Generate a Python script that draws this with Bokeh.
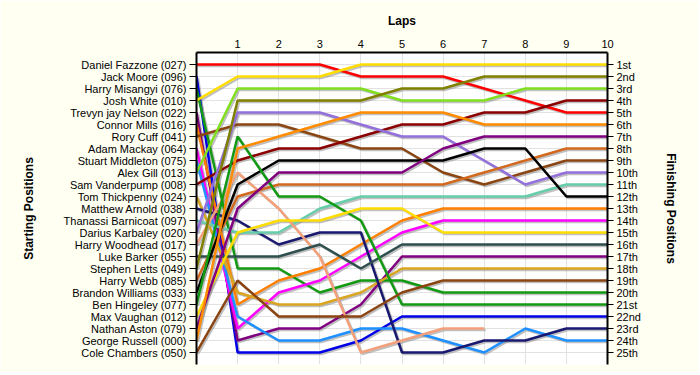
import math
from bokeh.plotting import figure
from bokeh.models import Range1d, LinearAxis, FixedTicker
from bokeh.embed import file_html
from bokeh.resources import INLINE

nan = float("nan")

laps = list(range(11))
lap_ticks = list(range(1, 11))
rows = list(range(1, 26))

start_names = [
    "Daniel Fazzone (027)", "Jack Moore (096)", "Harry Misangyi (076)", "Josh White (010)",
    "Trevyn jay Nelson (022)", "Connor Mills (016)", "Rory Cuff (041)", "Adam Mackay (064)",
    "Stuart Middleton (075)", "Alex Gill (013)", "Sam Vanderpump (008)", "Tom Thickpenny (024)",
    "Matthew Arnold (038)", "Thanassi Barnicoat (097)", "Darius Karbaley (020)", "Harry Woodhead (017)",
    "Luke Barker (055)", "Stephen Letts (049)", "Harry Webb (085)", "Brandon Williams (033)",
    "Ben Hingeley (077)", "Max Vaughan (012)", "Nathan Aston (079)", "George Russell (000)",
    "Cole Chambers (050)",
]
finish_labels = [
    "1st", "2nd", "3rd", "4th", "5th", "6th", "7th", "8th", "9th", "10th", "11th", "12th",
    "13th", "14th", "15th", "16th", "17th", "18th", "19th", "20th", "21st", "22nd", "23rd",
    "24th", "25th",
]

# positions per lap (lap 0 = starting position)
pos_fazzone = [1, 1, 1, 1, 2, 2, 2, 3, 4, 5, 5]
pos_moore = [2, 25, 25, 25, 24, 22, 22, 22, 22, 22, 22]
pos_misangyi = [3, 18, 18, 20, 19, 19, 20, 20, 20, 20, 20]
pos_white = [4, 2, 2, 2, 1, 1, 1, 1, 1, 1, 1]
pos_nelson = [5, 24, 23, 23, 21, 17, 17, 17, 17, 17, 17]
pos_mills = [6, 21, 19, 18, 16, 14, 13, 13, 13, 13, 13]
pos_cuff = [7, 6, 6, 7, 8, 8, 10, 11, 10, 9, 9]
pos_mackay = [8, 23, 20, 19, 17, 15, 14, 14, 14, 14, 14]
pos_middleton = [9, 22, 24, 24, 23, 23, 24, 25, 23, 24, 24]
pos_gill = [10, 3, 3, 3, 3, 4, 4, 4, 3, 3, 3]
pos_vanderpump = [11, 9, 8, 8, 7, 6, 6, 5, 5, 4, 4]
pos_thickpenny = [12, 20, 21, 21, 20, 18, 18, 18, 18, 18, 18]
pos_arnold = [13, 14, 16, 15, 15, 25, 25, 24, 24, 23, 23]
pos_barnicoat = [14, 15, 15, 13, 12, 12, 12, 12, 12, 11, 11]
pos_karbaley = [15, 5, 5, 5, 6, 7, 7, 9, 11, 10, 10]
pos_woodhead = [16, 10, 13, 17, 25, 24, 23, 23, nan, nan, nan]
pos_barker = [17, 17, 17, 16, 18, 16, 16, 16, 16, 16, 16]
pos_letts = [18, 4, 4, 4, 4, 3, 3, 2, 2, 2, 2]
pos_webb = [19, 12, 11, 11, 11, 11, 11, 10, 9, 8, 8]
pos_williams = [20, 11, 9, 9, 9, 9, 9, 8, 8, 12, 12]
pos_hingeley = [21, 7, 12, 12, 14, 21, 21, 21, 21, 21, 21]
pos_vaughan = [22, 15, 14, 14, 13, 13, 15, 15, 15, 15, 15]
pos_aston = [23, 13, 10, 10, 10, 10, 8, 7, 7, 7, 7]
pos_russell = [24, 8, 7, 6, 5, 5, 5, 6, 6, 6, 6]
pos_chambers = [25, 19, 22, 22, 22, 20, 19, 19, 19, 19, 19]

driver_positions = [
    pos_fazzone, pos_moore, pos_misangyi, pos_white, pos_nelson, pos_mills, pos_cuff,
    pos_mackay, pos_middleton, pos_gill, pos_vanderpump, pos_thickpenny, pos_arnold,
    pos_barnicoat, pos_karbaley, pos_woodhead, pos_barker, pos_letts, pos_webb,
    pos_williams, pos_hingeley, pos_vaughan, pos_aston, pos_russell, pos_chambers,
]
driver_colors = [
    "#ff0000", "#0000e6", "#139a13", "#ffdd00", "#800080", "#ff8000", "#8b4513",
    "#ff00ff", "#1e90ff", "#80e020", "#8b0000", "#daa520", "#191970",
    "#66cdaa", "#9370db", "#f4a07a", "#2f4f4f", "#808000", "#d2691e",
    "#000000", "#139a13", "#ffdd00", "#800080", "#ff8c00", "#8b4513",
]

FONT = "Liberation Sans"

p = figure(
    width=698, height=372, output_backend="svg", toolbar_location=None,
    x_range=Range1d(0, 10), y_range=Range1d(26, 0),
    x_axis_location="above", y_axis_location="left",
    min_border_left=196, min_border_right=91, min_border_top=52, min_border_bottom=8,
    background_fill_color="white", border_fill_color="#fffff2",
    outline_line_color=None,
)

# top axis (laps)
xa = p.xaxis[0]
xa.ticker = FixedTicker(ticks=lap_ticks)
xa.axis_label = "Laps"
xa.axis_label_standoff = 9
xa.major_label_standoff = 5
xa.major_tick_out = 0
xa.major_tick_in = 0
xa.minor_tick_line_color = None

# left axis (starting positions)
ya = p.yaxis[0]
ya.ticker = FixedTicker(ticks=rows)
ya.major_label_overrides = {r: n for r, n in zip(rows, start_names)}
ya.axis_label = "Starting Positions"
ya.axis_label_standoff = 25
ya.major_label_standoff = 3
ya.major_tick_out = 7
ya.major_tick_in = 0
ya.minor_tick_line_color = None

# right axis (finishing positions)
ra = LinearAxis(ticker=FixedTicker(ticks=rows))
ra.major_label_overrides = {r: n for r, n in zip(rows, finish_labels)}
ra.axis_label = "Finishing Positions"
ra.axis_label_standoff = 20
ra.major_label_standoff = 3
ra.major_tick_out = 6
ra.major_tick_in = 0
ra.minor_tick_line_color = None
p.add_layout(ra, "right")

for ax in (xa, ya, ra):
    ax.axis_line_color = "black"
    ax.axis_line_width = 2
    ax.major_tick_line_color = "black"
    ax.major_tick_line_width = 1
    ax.major_label_text_font = FONT
    ax.major_label_text_font_size = "11px"
    ax.major_label_text_color = "black"
    ax.axis_label_text_font = FONT
    ax.axis_label_text_font_size = "12px"
    ax.axis_label_text_font_style = "bold"
    ax.axis_label_text_color = "black"

p.xgrid.ticker = FixedTicker(ticks=lap_ticks)
p.ygrid.ticker = FixedTicker(ticks=rows)
p.xgrid.grid_line_color = "#e2e2e2"
p.ygrid.grid_line_color = "#e2e2e2"
p.xgrid.grid_line_width = 1
p.ygrid.grid_line_width = 1

# shadows (offset by ~1.5px)
dx = 1.5 / 41.1
dy = 1.5 / 12.0
for pos in driver_positions:
    p.line([l + dx for l in laps], [v + dy for v in pos], line_color="#8c8c8c",
           line_alpha=0.55, line_width=2.5)

for pos, col in zip(driver_positions, driver_colors):
    p.line(laps, pos, line_color=col, line_width=2.5)

open("out.html", "w").write(file_html(p, INLINE))
